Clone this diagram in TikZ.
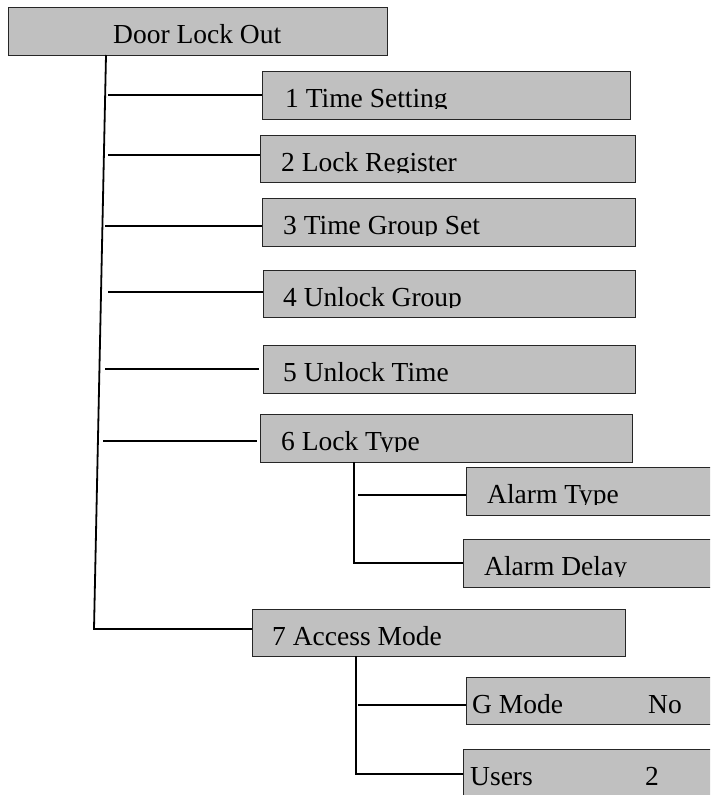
\documentclass[tikz,border=0pt]{standalone}
\usepackage{fontspec}
\setmainfont{Liberation Serif}
\definecolor{boxgray}{RGB}{192,192,192}
\tikzset{
  menubox/.style={draw=black!85, line width=1.2pt, fill=boxgray, inner sep=0pt, anchor=north west},
  wire/.style={line width=1.8pt, black},
  lbl/.style={anchor=base west, inner sep=0pt, font=\fontsize{27.5}{33}\selectfont},
}
% #1 name, #2 x1, #3 y1, #4 x2, #5 y2, #6 text x, #7 text
\newcommand\menubx[7]{%
  \node[menubox, minimum width={#4-#2}, minimum height={#5-#3}] (#1) at (#2,#3) {};
  \begin{scope}
    \clip (#2,#3) rectangle (#4,#3+37.5);
    \node[lbl] (#1-t) at (#6,#3+36) {#7};
  \end{scope}
}
\begin{document}
\begin{tikzpicture}[x=1pt,y=-1pt]
\useasboundingbox (0,0) rectangle (710,795);
\clip (0,0) rectangle (710,795);
\fill[white] (0,0) rectangle (710,795);

% boxes
\menubx{dlo}{8}{7}{387}{55}{113}{Door Lock Out}
\menubx{b1}{262}{71}{630}{119}{285}{1 Time Setting}
\menubx{b2}{260}{135}{635}{182}{281}{2 Lock Register}
\menubx{b3}{262}{198}{635}{246}{283}{3 Time Group Set}
\menubx{b4}{263}{270}{635}{317}{283}{4 Unlock Group}
\menubx{b5}{263}{345}{635}{393}{283}{5 Unlock Time}
\menubx{b6}{260}{414}{632}{462}{281}{6 Lock Type}
\menubx{bat}{466}{467}{716}{515}{487}{Alarm Type}
\menubx{bad}{463}{539}{716}{587}{484}{Alarm Delay}
\menubx{b7}{252}{609}{625}{656}{272}{7 Access Mode}
\menubx{bgm}{466}{677}{716}{724}{472}{G Mode}
\menubx{bus}{463}{749}{716}{800}{470}{Users}
\node[lbl] (bgm-v) at (648,713) {No};
\node[lbl] (bus-v) at (645,785) {2};

% main trunk
\coordinate (trunktop) at (106,55);
\coordinate (trunkend) at (94,629);
\draw[wire] (trunktop) -- (trunkend) -- (trunkend -| b7.west);

\coordinate (j1) at (108,95);
\coordinate (j2) at (108,155);
\coordinate (j3) at (105,226);
\coordinate (j4) at (108,292);
\coordinate (j5) at (105,369);
\coordinate (j6) at (103,441);
\draw[wire] (j1) -- (j1 -| b1.west);
\draw[wire] (j2) -- (j2 -| b2.west);
\draw[wire] (j3) -- (j3 -| b3.west);
\draw[wire] (j4) -- (j4 -| b4.west);
\draw[wire] (j5) -- ([xshift=-4pt]j5 -| b5.west);
\draw[wire] (j6) -- ([xshift=-3pt]j6 -| b6.west);

% sub-tree of 6 Lock Type
\coordinate (s6) at (354,462);
\coordinate (s6end) at (354,563);
\coordinate (s6a) at (358,495);
\draw[wire] (s6) -- (s6end) -- (s6end -| bad.west);
\draw[wire] (s6a) -- (s6a -| bat.west);

% sub-tree of 7 Access Mode
\coordinate (s7) at (356,656);
\coordinate (s7end) at (356,774);
\coordinate (s7a) at (358,705);
\draw[wire] (s7) -- (s7end) -- (s7end -| bus.west);
\draw[wire] (s7a) -- (s7a -| bgm.west);
\end{tikzpicture}
\end{document}
